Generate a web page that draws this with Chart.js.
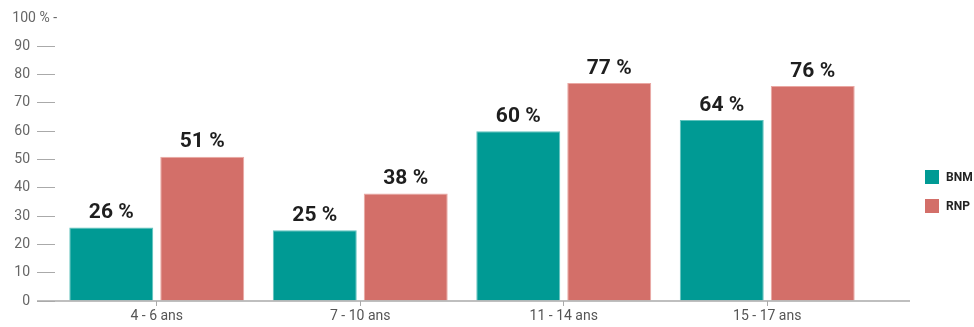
<!DOCTYPE html>
<html>
<head>
<meta charset="utf-8">
<script src="https://cdn.jsdelivr.net/npm/chart.js@4"></script>
<style>
  html, body { margin: 0; padding: 0; background: #fff; }
  #wrap { width: 974px; height: 327px; position: relative; }
</style>
</head>
<body>
<div id="wrap"><canvas id="chart"></canvas></div>
<script>
// chart data
const categories = ["4 - 6 ans", "7 - 10 ans", "11 - 14 ans", "15 - 17 ans"];
const seriesNames = ["BNM", "RNP"];
const bnmValues = [26, 25, 60, 64];
const rnpValues = [51, 38, 77, 76];
const yMax = 100;
const yStep = 10;

const tealColor = "#009a94";
const redColor = "#d36f69";
const axisFont = "Roboto, sans-serif";

// draws the base line, the top "100 %" label, the value labels and the legend
const decorations = {
  id: "decorations",
  afterDraw(chart) {
    const ctx = chart.ctx;
    const area = chart.chartArea;
    const y = chart.scales.y;
    ctx.save();

    // base line
    const y0 = y.getPixelForValue(0);
    ctx.strokeStyle = "#aaaaaa";
    ctx.lineWidth = 1.5;
    ctx.beginPath();
    ctx.moveTo(area.left - 18, y0);
    ctx.lineTo(910, y0);
    ctx.stroke();

    // top label
    ctx.fillStyle = "#666";
    ctx.font = "14px " + axisFont;
    ctx.textAlign = "right";
    ctx.textBaseline = "middle";
    ctx.fillText(yMax + " % -", area.left + 2, y.getPixelForValue(yMax));

    // values above bars
    ctx.fillStyle = "#1e1e1e";
    ctx.font = "bold 21px Roboto, sans-serif";
    ctx.textAlign = "center";
    ctx.textBaseline = "bottom";
    chart.data.datasets.forEach((ds, i) => {
      chart.getDatasetMeta(i).data.forEach((bar, j) => {
        ctx.fillText(ds.data[j] + " %", bar.x, bar.y - 4);
      });
    });

    // legend
    ctx.font = "bold 12px Roboto, sans-serif";
    ctx.textAlign = "left";
    ctx.textBaseline = "middle";
    chart.data.datasets.forEach((ds, i) => {
      const cy = 177 + i * 29;
      ctx.fillStyle = ds.backgroundColor;
      ctx.fillRect(925, cy - 7, 14, 14);
      ctx.fillStyle = "#222";
      ctx.fillText(ds.label, 946, cy + 1);
    });

    ctx.restore();
  }
};

const data = {
  labels: categories,
  datasets: [
    {
      label: seriesNames[0],
      data: bnmValues,
      backgroundColor: tealColor,
      borderColor: "#5fc3bd",
      borderWidth: 1,
    },
    {
      label: seriesNames[1],
      data: rnpValues,
      backgroundColor: redColor,
      borderColor: "#eaa8a3",
      borderWidth: 1,
    },
  ],
};

const config = {
  type: "bar",
  data: data,
  options: {
    responsive: true,
    maintainAspectRatio: false,
    animation: false,
    categoryPercentage: 0.894,
    barPercentage: 0.923,
    layout: {
      padding: { left: 0, right: 105, top: 18, bottom: 0 },
    },
    plugins: {
      legend: { display: false },
      tooltip: { enabled: false },
    },
    scales: {
      x: {
        border: { display: false },
        grid: {
          drawOnChartArea: false,
          offset: false,
          tickLength: 5,
          tickColor: "#aaaaaa",
        },
        ticks: {
          color: "#555",
          padding: 2,
          font: { family: axisFont, size: 14 },
        },
        afterFit: (s) => { s.height = 26; },
      },
      y: {
        min: 0,
        max: yMax,
        border: { display: false },
        grid: {
          drawOnChartArea: false,
          tickLength: 18,
          tickColor: (c) => (c.tick && c.tick.value === yMax ? "transparent" : "#aaaaaa"),
        },
        ticks: {
          stepSize: yStep,
          color: "#666",
          padding: 7,
          font: { family: axisFont, size: 14 },
          callback: (v) => (v === yMax ? "" : v),
        },
        afterFit: (s) => { s.width = 55; },
      },
    },
  },
  plugins: [decorations],
};

const ctx = document.getElementById("chart").getContext("2d");
const myChart = new Chart(ctx, config);
</script>
</body>
</html>
